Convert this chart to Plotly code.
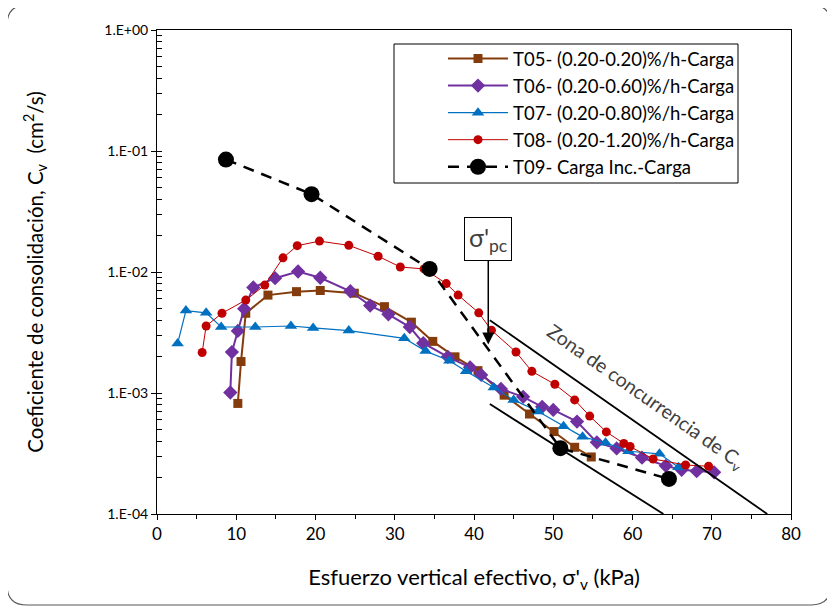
import plotly.graph_objects as go

# ---------------- data ----------------
t05_x = [10.2, 10.6, 11.2, 14.0, 17.6, 20.6, 24.9, 28.7, 32.1, 34.8, 37.6, 40.5, 43.8, 47.0, 50.1, 52.7, 54.8]
t05_y = [8.2e-4, 1.82e-3, 4.56e-3, 6.44e-3, 6.88e-3, 7.03e-3, 6.68e-3, 5.17e-3, 3.85e-3, 2.67e-3,
         1.99e-3, 1.53e-3, 9.6e-4, 6.7e-4, 4.8e-4, 3.56e-4, 2.96e-4]

t06_x = [9.25, 9.45, 10.2, 11.0, 12.15, 14.9, 17.8, 20.6, 24.4, 26.9, 29.2, 31.9, 33.6, 36.7, 39.5,
         40.9, 43.4, 46.2, 48.6, 50.0, 53.0, 55.5, 58.0, 61.2, 64.2, 66.2, 68.1, 70.3]
t06_y = [1.01e-3, 2.18e-3, 3.26e-3, 4.98e-3, 7.46e-3, 8.89e-3, 1.01e-2, 8.96e-3, 6.93e-3, 5.28e-3,
         4.47e-3, 3.51e-3, 2.58e-3, 1.99e-3, 1.63e-3, 1.41e-3, 1.08e-3, 9.29e-4, 7.68e-4, 7.24e-4,
         5.81e-4, 3.91e-4, 3.48e-4, 2.92e-4, 2.50e-4, 2.32e-4, 2.26e-4, 2.21e-4]

t07_x = [2.6, 3.65, 6.2, 8.1, 12.4, 16.9, 19.7, 24.2, 31.2, 33.9, 36.9, 39.0, 42.5, 45.0, 48.1,
         51.3, 53.7, 56.6, 59.5, 63.4, 65.8]
t07_y = [2.56e-3, 4.80e-3, 4.60e-3, 3.51e-3, 3.51e-3, 3.58e-3, 3.45e-3, 3.28e-3, 2.83e-3, 2.22e-3,
         1.85e-3, 1.51e-3, 1.11e-3, 8.77e-4, 7.03e-4, 5.32e-4, 4.34e-4, 3.88e-4, 3.30e-4, 3.14e-4, 2.43e-4]

t08_x = [5.7, 6.2, 8.2, 11.2, 13.6, 15.9, 17.7, 20.5, 24.2, 27.9, 30.7, 33.7, 36.5, 38.0, 40.6,
         42.2, 45.3, 47.3, 50.2, 52.7, 54.6, 56.7, 58.9, 59.7, 62.6, 66.7, 69.6]
t08_y = [2.16e-3, 3.58e-3, 4.56e-3, 5.86e-3, 7.79e-3, 1.31e-2, 1.65e-2, 1.80e-2, 1.66e-2, 1.35e-2,
         1.10e-2, 1.06e-2, 8.02e-3, 6.44e-3, 4.60e-3, 3.30e-3, 2.18e-3, 1.51e-3, 1.18e-3, 8.77e-4,
         6.44e-4, 4.77e-4, 3.83e-4, 3.61e-4, 2.85e-4, 2.54e-4, 2.48e-4]

t09_x = [8.7, 19.5, 34.4, 50.9, 64.6]
t09_y = [8.5e-2, 4.4e-2, 1.06e-2, 3.5e-4, 1.95e-4]

zone_upper_x = [42.0, 77.0]
zone_upper_y = [4.0e-3, 1.0e-4]
zone_lower_x = [42.0, 63.9]
zone_lower_y = [8.1e-4, 1.0e-4]

series_names = ["T05- (0.20-0.20)%/h-Carga", "T06- (0.20-0.60)%/h-Carga",
                "T07- (0.20-0.80)%/h-Carga", "T08- (0.20-1.20)%/h-Carga",
                "T09- Carga Inc.-Carga"]

y_tickvals = [1e-4, 1e-3, 1e-2, 1e-1, 1e0]
y_ticktext = ["1.E-04", "1.E-03", "1.E-02", "1.E-01", "1.E+00"]
y_minor = [m * 10 ** e for e in range(-4, 0) for m in range(2, 10)]
x_tickvals = [0, 10, 20, 30, 40, 50, 60, 70, 80]

FONT = "Lato"

fig = go.Figure()

fig.add_trace(go.Scatter(x=t05_x, y=t05_y, name=series_names[0], mode="lines+markers",
                         line=dict(color="#843C0C", width=2),
                         marker=dict(symbol="square", size=9, color="#843C0C")))
fig.add_trace(go.Scatter(x=t06_x, y=t06_y, name=series_names[1], mode="lines+markers",
                         line=dict(color="#7030A0", width=2),
                         marker=dict(symbol="diamond", size=11, color="#7030A0")))
fig.add_trace(go.Scatter(x=t07_x, y=t07_y, name=series_names[2], mode="lines+markers",
                         line=dict(color="#0070C0", width=1.2),
                         marker=dict(symbol="triangle-up", size=11, color="#0070C0")))
fig.add_trace(go.Scatter(x=t08_x, y=t08_y, name=series_names[3], mode="lines+markers",
                         line=dict(color="#C00000", width=1),
                         marker=dict(symbol="circle", size=9, color="#C00000")))
fig.add_trace(go.Scatter(x=t09_x, y=t09_y, name=series_names[4], mode="lines+markers",
                         line=dict(color="black", width=2.5, dash="11px,8px"),
                         marker=dict(symbol="circle", size=16, color="black")))

for zx, zy in [(zone_upper_x, zone_upper_y), (zone_lower_x, zone_lower_y)]:
    fig.add_trace(go.Scatter(x=zx, y=zy, mode="lines", showlegend=False, hoverinfo="skip",
                             line=dict(color="black", width=1.8)))

# helper trace for the crossing major ticks on the y axis
fig.add_trace(go.Scatter(x=[None], y=[None], yaxis="y2", showlegend=False, hoverinfo="skip"))

PW, PH = 634, 484  # plot area size in px
fig.update_layout(
    width=835, height=607,
    margin=dict(l=149, r=52, t=22, b=101),
    paper_bgcolor="white", plot_bgcolor="white",
    font=dict(family=FONT, color="black"),
    showlegend=True,
    legend=dict(x=(443 - 157) / PW, y=(514 - 40) / PH, xanchor="left", yanchor="top",
                bgcolor="rgba(0,0,0,0)", borderwidth=0, itemwidth=60,
                font=dict(family=FONT, size=18.5, color="black"),
                tracegroupgap=0),
    xaxis=dict(range=[0, 80], tickvals=x_tickvals, ticks="outside", ticklen=5, tickwidth=1,
               tickcolor="black", showline=True, linecolor="black", linewidth=1, mirror=True,
               showgrid=False, zeroline=False,
               minor=dict(tickvals=[5, 15, 25, 35, 45, 55, 65, 75], ticks="outside", ticklen=4,
                          tickcolor="black", showgrid=False),
               tickfont=dict(family=FONT, size=17),
               title=dict(text="Esfuerzo vertical efectivo, σ'<sub>v</sub> (kPa)",
                          font=dict(family=FONT, size=22), standoff=26)),
    yaxis=dict(type="log", range=[-4, 0], tickvals=y_tickvals, ticktext=y_ticktext,
               ticks="outside", ticklen=5, tickwidth=1, tickcolor="black",
               showline=True, linecolor="black", linewidth=1, mirror=True,
               showgrid=False, zeroline=False,
               minor=dict(tickvals=y_minor, ticks="inside", ticklen=5, tickcolor="black",
                          showgrid=False),
               tickfont=dict(family=FONT, size=14),
               title=dict(text="Coeficiente de consolidación, C<sub>v</sub>  (cm<sup>2</sup>/s)",
                          font=dict(family=FONT, size=20.5), standoff=55)),
    yaxis2=dict(type="log", range=[-4, 0], overlaying="y", side="left", anchor="x",
                tickvals=y_tickvals, ticks="inside", ticklen=5, tickcolor="black",
                showticklabels=False, showgrid=False, showline=False, zeroline=False),
)

# legend frame (white box with black border)
fig.add_shape(type="rect", xref="paper", yref="paper",
              x0=(394 - 157) / PW, x1=(738 - 157) / PW,
              y0=(514 - 183) / PH, y1=(514 - 44) / PH,
              line=dict(color="black", width=1), fillcolor="white", layer="below")

# sigma'pc annotation with arrow
fig.add_annotation(x=41.8, y=-2.6, xref="x", yref="y",
                   text="σ'<sub>pc</sub>", showarrow=True, arrowhead=2, arrowsize=1.6,
                   arrowwidth=1.5, arrowcolor="black", ax=0, ay=-106,
                   bordercolor="black", borderwidth=1, borderpad=4, bgcolor="white",
                   font=dict(family=FONT, size=25, color="#404040"))

# zone label
fig.add_annotation(x=61.6, y=-3.03, xref="x", yref="y",
                   text="Zona de concurrencia de C<sub>v</sub>", showarrow=False, textangle=35,
                   font=dict(family=FONT, size=19.5, color="#404040"))

# rounded chart-area border
x0 = (7 - 157) / PW; x1 = (831 - 157) / PW
y0 = (514 - 605) / PH; y1 = (514 - 5) / PH
rx = 20 / PW; ry = 20 / PH
path = (f"M {x0+rx},{y1} L {x1-rx},{y1} Q {x1},{y1} {x1},{y1-ry} "
        f"L {x1},{y0+ry} Q {x1},{y0} {x1-rx},{y0} L {x0+rx},{y0} Q {x0},{y0} {x0},{y0+ry} "
        f"L {x0},{y1-ry} Q {x0},{y1} {x0+rx},{y1} Z")
fig.add_shape(type="path", path=path, xref="paper", yref="paper",
              line=dict(color="#595959", width=1.2), layer="below")

fig.write_html("out.html")
